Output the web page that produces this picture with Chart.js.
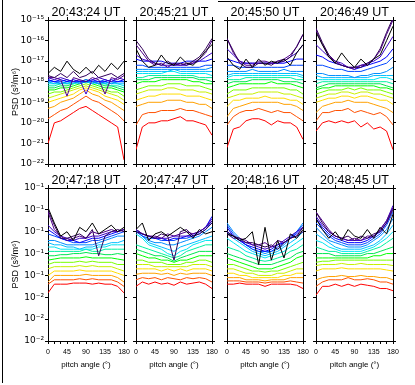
<!DOCTYPE html>
<html>
<head>
<meta charset="utf-8">
<script src="https://cdn.jsdelivr.net/npm/chart.js@4/dist/chart.umd.min.js"></script>
<style>
  body { margin: 0; background: #fff; width: 415px; height: 385px; position: relative; overflow: hidden; }
  canvas { position: absolute; }
  .rule { position: absolute; background: #000; }
</style>
</head>
<body>
<div class="rule" style="left:2px;top:0;width:1px;height:383px"></div>
<div class="rule" style="left:218px;top:1px;width:197px;height:1px"></div>
<script>
// pitch angle bins (degrees)
const pitchAngles = [0, 15, 30, 45, 60, 75, 90, 105, 120, 135, 150, 165, 180];

const panelTimes = ['20:43:24 UT', '20:45:21 UT', '20:45:50 UT', '20:46:49 UT',
                    '20:47:18 UT', '20:47:47 UT', '20:48:16 UT', '20:48:45 UT'];

// one colour per energy channel, lowest energy (top curve) first
const lineColors = ['#000000', '#32005a', '#50008c', '#3c00c8', '#0000ff', '#0046ff',
                    '#008cff', '#00beff', '#00e6f0', '#00f0a0', '#00e650', '#00ff00',
                    '#78ff00', '#c8f000', '#ffdc00', '#ffa000', '#ff5000', '#ff0000'];

// y tick labels, from 1e-22 up to 1e-15 (bottom row labels are truncated in the original)
const topRowYLabels = ['10⁻²²', '10⁻²¹', '10⁻²⁰', '10⁻¹⁹', '10⁻¹⁸', '10⁻¹⁷', '10⁻¹⁶', '10⁻¹⁵'];
const bottomRowYLabels = ['10⁻²', '10⁻²', '10⁻²', '10⁻¹', '10⁻¹', '10⁻¹', '10⁻¹', '10⁻¹'];
const xTickLabels = [0, 45, 90, 135, 180];

// log10 PSD per channel, one row per colour above
const psd204324 = [
  [-17.6,-17.3,-17.5,-17.0,-17.4,-17.6,-17.3,-17.6,-17.2,-17.5,-17.1,-17.4,-17.0],
  [-17.7,-17.8,-17.6,-17.8,-17.5,-17.8,-17.7,-17.5,-17.8,-17.7,-17.6,-17.8,-17.6],
  [-17.8,-17.8,-17.9,-18.7,-17.8,-17.9,-18.0,-17.8,-17.9,-18.6,-17.8,-17.9,-17.7],
  [-17.8,-17.9,-17.8,-17.9,-18.0,-17.9,-18.6,-17.9,-17.8,-17.9,-18.0,-17.8,-17.9],
  [-17.9,-18.0,-17.9,-18.0,-17.9,-18.0,-18.0,-17.9,-18.0,-18.0,-17.9,-18.0,-17.9],
  [-17.9,-18.0,-18.0,-17.9,-18.0,-18.0,-17.9,-18.0,-18.0,-17.9,-18.0,-18.0,-18.0],
  [-18.0,-18.0,-18.1,-18.0,-18.0,-18.1,-18.0,-18.0,-18.1,-18.0,-18.1,-18.0,-18.0],
  [-18.0,-18.1,-18.0,-18.1,-18.0,-18.0,-18.0,-18.1,-18.0,-18.1,-18.0,-18.1,-18.1],
  [-18.1,-18.1,-18.1,-18.0,-18.1,-18.0,-18.0,-18.0,-18.1,-18.0,-18.1,-18.1,-18.2],
  [-18.2,-18.2,-18.1,-18.1,-18.1,-18.0,-17.9,-18.0,-18.1,-18.1,-18.2,-18.2,-18.3],
  [-18.3,-18.3,-18.2,-18.2,-18.1,-18.0,-18.0,-18.0,-18.1,-18.2,-18.2,-18.3,-18.4],
  [-18.4,-18.4,-18.3,-18.3,-18.2,-18.1,-18.0,-18.1,-18.2,-18.3,-18.3,-18.4,-18.5],
  [-18.6,-18.5,-18.5,-18.4,-18.3,-18.2,-18.1,-18.2,-18.3,-18.4,-18.5,-18.5,-18.7],
  [-18.8,-18.7,-18.6,-18.5,-18.4,-18.3,-18.2,-18.3,-18.4,-18.5,-18.6,-18.7,-18.9],
  [-19.0,-18.9,-18.8,-18.7,-18.6,-18.4,-18.3,-18.4,-18.5,-18.7,-18.8,-18.9,-19.1],
  [-19.3,-19.2,-19.0,-18.9,-18.8,-18.6,-18.4,-18.6,-18.7,-18.9,-19.0,-19.2,-19.4],
  [-19.8,-19.6,-19.4,-19.3,-19.1,-18.9,-18.7,-18.9,-19.0,-19.2,-19.4,-19.6,-19.9],
  [-21.0,-20.0,-19.9,-19.7,-19.5,-19.3,-19.2,-19.4,-19.6,-19.8,-20.0,-20.2,-21.8]
];
const psd204521 = [
  [-16.4,-17.0,-17.3,-17.2,-16.7,-17.1,-17.2,-16.8,-17.1,-17.2,-16.9,-16.5,-16.2],
  [-16.0,-16.4,-16.9,-17.1,-17.2,-17.0,-17.2,-17.1,-17.2,-17.0,-16.8,-16.4,-15.9],
  [-16.2,-16.6,-17.0,-17.2,-17.1,-17.3,-17.1,-17.2,-17.1,-17.1,-16.9,-16.6,-16.0],
  [-16.7,-16.9,-17.0,-17.1,-17.2,-17.2,-17.2,-17.2,-17.2,-17.1,-17.0,-16.8,-16.6],
  [-16.9,-17.0,-17.0,-17.0,-17.0,-17.1,-17.1,-17.1,-17.0,-17.0,-17.0,-17.0,-16.9],
  [-17.2,-17.2,-17.3,-17.3,-17.3,-17.3,-17.3,-17.3,-17.3,-17.3,-17.3,-17.2,-17.2],
  [-17.4,-17.4,-17.4,-17.4,-17.4,-17.4,-17.4,-17.4,-17.4,-17.4,-17.4,-17.4,-17.3],
  [-17.5,-17.5,-17.5,-17.5,-17.5,-17.5,-17.4,-17.5,-17.5,-17.5,-17.5,-17.5,-17.5],
  [-17.6,-17.6,-17.6,-17.6,-17.6,-17.5,-17.5,-17.6,-17.6,-17.6,-17.6,-17.6,-17.7],
  [-17.8,-17.8,-17.7,-17.7,-17.7,-17.7,-17.7,-17.7,-17.7,-17.7,-17.8,-17.8,-17.8],
  [-17.9,-17.9,-17.9,-17.8,-17.8,-17.8,-17.8,-17.8,-17.8,-17.8,-17.9,-17.9,-18.0],
  [-18.1,-18.0,-18.0,-18.0,-17.9,-17.9,-17.9,-17.9,-17.9,-18.0,-18.0,-18.1,-18.1],
  [-18.4,-18.3,-18.2,-18.2,-18.2,-18.1,-18.1,-18.1,-18.2,-18.2,-18.2,-18.3,-18.4],
  [-18.6,-18.5,-18.4,-18.4,-18.4,-18.3,-18.3,-18.4,-18.4,-18.4,-18.5,-18.5,-18.6],
  [-18.9,-18.8,-18.7,-18.7,-18.6,-18.6,-18.6,-18.6,-18.7,-18.7,-18.7,-18.8,-18.9],
  [-19.2,-19.1,-19.0,-19.0,-19.0,-18.9,-18.9,-18.9,-19.0,-19.0,-19.1,-19.1,-19.3],
  [-20.1,-19.6,-19.5,-19.5,-19.4,-19.4,-19.4,-19.3,-19.4,-19.4,-19.5,-19.6,-19.7],
  [-21.3,-20.2,-20.0,-20.0,-19.9,-19.9,-19.8,-19.7,-19.9,-19.9,-20.0,-20.1,-20.6]
];
const psd204550 = [
  [-16.8,-17.2,-17.4,-16.9,-17.3,-16.9,-17.2,-17.0,-17.1,-16.9,-17.2,-16.6,-16.2],
  [-15.9,-16.5,-17.1,-17.3,-17.3,-17.1,-17.1,-17.2,-17.0,-17.0,-16.8,-16.3,-15.7],
  [-15.9,-16.6,-17.0,-17.2,-17.2,-17.0,-17.0,-17.1,-17.0,-16.9,-16.7,-16.3,-15.7],
  [-16.4,-16.7,-17.0,-17.1,-17.1,-17.1,-17.1,-17.1,-17.1,-17.0,-16.8,-16.6,-16.2],
  [-16.9,-17.0,-17.1,-17.1,-17.1,-17.1,-17.1,-17.1,-17.1,-17.1,-17.0,-16.9,-16.9],
  [-17.2,-17.2,-17.3,-17.3,-17.3,-17.3,-17.3,-17.3,-17.3,-17.3,-17.2,-17.2,-17.2],
  [-17.5,-17.5,-17.5,-17.5,-17.4,-17.5,-17.5,-17.5,-17.5,-17.4,-17.5,-17.5,-17.5],
  [-17.7,-17.6,-17.6,-17.6,-17.6,-17.6,-17.6,-17.6,-17.6,-17.6,-17.6,-17.6,-17.7],
  [-17.8,-17.7,-17.7,-17.7,-17.7,-17.7,-17.7,-17.7,-17.7,-17.7,-17.7,-17.7,-17.8],
  [-17.9,-17.9,-17.9,-17.8,-17.8,-17.8,-17.8,-17.8,-17.8,-17.8,-17.8,-17.9,-17.9],
  [-18.1,-18.0,-18.0,-18.0,-17.9,-17.9,-17.9,-17.9,-17.9,-18.0,-18.0,-18.0,-18.1],
  [-18.3,-18.2,-18.1,-18.1,-18.1,-18.1,-18.1,-18.0,-18.1,-18.1,-18.1,-18.2,-18.3],
  [-18.6,-18.4,-18.4,-18.4,-18.3,-18.3,-18.3,-18.3,-18.3,-18.3,-18.4,-18.4,-18.6],
  [-18.8,-18.7,-18.6,-18.6,-18.6,-18.5,-18.5,-18.5,-18.5,-18.6,-18.6,-18.7,-18.8],
  [-19.2,-18.9,-18.9,-18.8,-18.8,-18.8,-18.7,-18.8,-18.8,-18.8,-18.9,-18.9,-19.1],
  [-19.7,-19.3,-19.2,-19.1,-19.0,-19.0,-19.0,-19.0,-19.0,-19.1,-19.1,-19.2,-19.4],
  [-20.1,-19.7,-19.5,-19.4,-19.4,-19.3,-19.4,-19.5,-19.4,-19.5,-19.5,-19.7,-19.9],
  [-21.2,-20.3,-20.2,-19.9,-19.8,-19.8,-19.9,-20.1,-19.9,-20.0,-20.0,-20.2,-20.8]
];
const psd204649 = [
  [-15.6,-16.2,-16.8,-17.1,-16.6,-17.0,-17.3,-16.9,-17.2,-16.9,-16.7,-16.0,-15.3],
  [-15.4,-16.1,-16.7,-17.1,-17.2,-17.3,-17.3,-17.3,-17.1,-16.9,-16.4,-15.6,-14.9],
  [-15.5,-16.2,-16.7,-17.0,-17.2,-17.3,-17.4,-17.2,-17.2,-16.9,-16.5,-15.7,-15.0],
  [-16.2,-16.5,-16.8,-17.0,-17.1,-17.3,-17.3,-17.2,-17.1,-17.0,-16.8,-16.3,-15.8],
  [-16.7,-16.8,-17.0,-17.1,-17.2,-17.3,-17.4,-17.3,-17.2,-17.1,-17.0,-16.8,-16.4],
  [-17.2,-17.2,-17.3,-17.4,-17.4,-17.5,-17.5,-17.5,-17.4,-17.3,-17.2,-17.1,-16.8],
  [-17.6,-17.6,-17.7,-17.7,-17.7,-17.7,-17.8,-17.7,-17.7,-17.6,-17.6,-17.5,-17.3],
  [-17.7,-17.8,-17.8,-17.8,-17.8,-17.8,-17.8,-17.8,-17.8,-17.7,-17.7,-17.7,-17.7],
  [-17.9,-17.9,-17.9,-17.9,-17.9,-17.9,-17.9,-17.9,-17.9,-17.9,-17.8,-17.8,-17.9],
  [-18.1,-18.0,-18.0,-18.0,-18.0,-18.0,-18.0,-18.0,-18.0,-18.0,-18.0,-18.0,-18.1],
  [-18.3,-18.2,-18.1,-18.1,-18.1,-18.1,-18.1,-18.1,-18.1,-18.1,-18.1,-18.2,-18.3],
  [-18.4,-18.3,-18.3,-18.2,-18.2,-18.2,-18.2,-18.2,-18.2,-18.2,-18.3,-18.3,-18.4],
  [-18.6,-18.5,-18.4,-18.4,-18.4,-18.3,-18.4,-18.3,-18.4,-18.4,-18.4,-18.5,-18.6],
  [-18.8,-18.7,-18.6,-18.6,-18.5,-18.5,-18.6,-18.5,-18.5,-18.6,-18.6,-18.7,-18.8],
  [-19.0,-18.9,-18.8,-18.8,-18.7,-18.7,-18.8,-18.7,-18.7,-18.8,-18.9,-18.9,-19.1],
  [-19.5,-19.2,-19.1,-19.0,-19.0,-18.9,-19.0,-19.0,-19.0,-19.1,-19.2,-19.3,-19.5],
  [-19.9,-19.5,-19.5,-19.4,-19.4,-19.3,-19.5,-19.4,-19.5,-19.6,-19.5,-19.7,-20.1],
  [-20.4,-20.0,-19.9,-20.0,-19.9,-20.0,-19.9,-20.2,-20.0,-20.3,-20.2,-20.4,-21.3]
];
const psd204718 = [
  [-15.9,-16.6,-17.2,-17.0,-17.4,-16.8,-17.0,-16.6,-17.1,-16.9,-16.7,-17.0,-16.8],
  [-16.0,-16.7,-17.3,-17.3,-17.2,-17.1,-17.3,-16.9,-18.1,-17.2,-17.0,-16.9,-17.0],
  [-16.1,-16.9,-17.2,-17.4,-17.3,-17.2,-17.3,-17.0,-17.1,-17.0,-16.9,-17.0,-16.9],
  [-16.7,-17.0,-17.2,-17.3,-17.4,-17.3,-17.3,-17.2,-17.2,-17.1,-17.0,-17.0,-16.9],
  [-16.9,-17.1,-17.3,-17.4,-17.4,-17.5,-17.4,-17.3,-17.3,-17.2,-17.1,-17.0,-16.9],
  [-17.1,-17.2,-17.3,-17.4,-17.5,-17.5,-17.5,-17.4,-17.4,-17.3,-17.2,-17.1,-17.0],
  [-17.4,-17.4,-17.5,-17.6,-17.6,-17.6,-17.6,-17.6,-17.5,-17.4,-17.3,-17.2,-17.2],
  [-17.5,-17.6,-17.6,-17.7,-17.7,-17.8,-17.7,-17.7,-17.6,-17.6,-17.5,-17.5,-17.4],
  [-17.7,-17.7,-17.8,-17.8,-17.8,-17.8,-17.8,-17.8,-17.7,-17.7,-17.6,-17.6,-17.6],
  [-17.9,-17.9,-17.9,-17.9,-17.9,-17.9,-17.8,-17.9,-17.9,-17.8,-17.8,-17.8,-17.8],
  [-18.1,-18.1,-18.05,-18.05,-18.0,-18.0,-17.95,-18.0,-18.0,-18.05,-18.05,-18.0,-18.05],
  [-18.3,-18.25,-18.2,-18.2,-18.2,-18.2,-18.15,-18.2,-18.2,-18.2,-18.2,-18.25,-18.3],
  [-18.5,-18.4,-18.4,-18.4,-18.4,-18.35,-18.4,-18.35,-18.4,-18.4,-18.4,-18.5,-18.5],
  [-18.7,-18.6,-18.6,-18.6,-18.6,-18.55,-18.6,-18.55,-18.6,-18.6,-18.6,-18.7,-18.8],
  [-19.0,-18.8,-18.8,-18.8,-18.8,-18.75,-18.8,-18.8,-18.8,-18.8,-18.8,-18.9,-19.0],
  [-19.3,-19.0,-19.0,-19.0,-19.0,-19.0,-18.95,-19.0,-19.0,-19.0,-19.0,-19.1,-19.3],
  [-19.4,-19.2,-19.2,-19.2,-19.2,-19.15,-19.2,-19.15,-19.2,-19.2,-19.2,-19.3,-19.5],
  [-19.8,-19.4,-19.4,-19.4,-19.35,-19.35,-19.35,-19.4,-19.35,-19.4,-19.4,-19.5,-19.8]
];
const psd204747 = [
  [-16.9,-16.6,-17.4,-17.1,-17.0,-17.2,-17.0,-16.8,-17.0,-17.3,-16.9,-17.1,-17.0],
  [-17.0,-17.1,-17.2,-17.3,-17.1,-17.2,-18.3,-17.0,-16.9,-17.2,-17.1,-16.9,-16.6],
  [-16.9,-17.1,-17.2,-17.2,-17.3,-17.1,-17.2,-17.1,-17.0,-17.1,-17.0,-16.8,-16.5],
  [-16.9,-17.1,-17.2,-17.3,-17.3,-17.3,-17.2,-17.2,-17.2,-17.1,-17.0,-16.8,-16.4],
  [-16.9,-17.1,-17.2,-17.3,-17.3,-17.4,-17.3,-17.3,-17.2,-17.2,-17.0,-16.8,-16.3],
  [-17.0,-17.2,-17.3,-17.3,-17.4,-17.4,-17.4,-17.3,-17.3,-17.2,-17.1,-16.9,-16.5],
  [-16.9,-17.2,-17.4,-17.5,-17.5,-17.6,-17.6,-17.5,-17.4,-17.3,-17.2,-17.0,-16.8],
  [-16.9,-17.2,-17.5,-17.6,-17.7,-17.8,-17.9,-17.7,-17.6,-17.5,-17.4,-17.3,-17.2],
  [-17.1,-17.3,-17.6,-17.7,-17.8,-18.0,-18.1,-17.9,-17.8,-17.6,-17.5,-17.4,-17.4],
  [-17.6,-17.7,-17.8,-17.9,-18.0,-18.1,-18.2,-18.1,-17.9,-17.8,-17.7,-17.6,-17.6],
  [-17.8,-17.9,-18.0,-18.1,-18.1,-18.2,-18.35,-18.2,-18.1,-18.0,-17.9,-17.9,-17.9],
  [-18.0,-18.1,-18.2,-18.2,-18.3,-18.3,-18.4,-18.3,-18.3,-18.2,-18.1,-18.1,-18.1],
  [-18.3,-18.3,-18.4,-18.4,-18.4,-18.5,-18.5,-18.5,-18.4,-18.4,-18.3,-18.3,-18.4],
  [-18.5,-18.5,-18.5,-18.6,-18.6,-18.6,-18.6,-18.6,-18.6,-18.5,-18.5,-18.5,-18.6],
  [-18.7,-18.7,-18.7,-18.7,-18.8,-18.7,-18.8,-18.7,-18.8,-18.7,-18.7,-18.7,-18.8],
  [-18.95,-18.9,-18.9,-18.9,-18.95,-18.9,-19.0,-18.9,-18.95,-18.9,-18.9,-18.9,-19.0],
  [-19.2,-19.1,-19.15,-19.1,-19.2,-19.1,-19.15,-19.2,-19.1,-19.15,-19.1,-19.15,-19.3],
  [-19.5,-19.3,-19.4,-19.3,-19.4,-19.35,-19.45,-19.3,-19.4,-19.35,-19.3,-19.4,-19.6]
];
const psd204816 = [
  [-17.1,-17.2,-17.4,-17.3,-17.0,-18.5,-16.8,-18.3,-17.4,-18.2,-17.1,-17.3,-16.9],
  [-17.0,-17.2,-17.3,-17.5,-17.5,-17.6,-17.7,-17.6,-17.8,-17.5,-17.3,-17.2,-16.8],
  [-17.1,-17.3,-17.3,-17.4,-17.6,-17.6,-17.5,-17.7,-17.4,-17.5,-17.3,-17.2,-17.0],
  [-17.0,-17.2,-17.4,-17.5,-17.6,-17.7,-17.8,-17.7,-17.6,-17.4,-17.2,-17.0,-16.8],
  [-16.8,-17.2,-17.4,-17.6,-17.7,-17.8,-17.9,-17.8,-17.6,-17.5,-17.3,-17.1,-16.8],
  [-16.7,-17.1,-17.4,-17.6,-17.8,-17.9,-17.9,-17.9,-17.7,-17.5,-17.3,-17.0,-16.7],
  [-16.6,-17.0,-17.3,-17.6,-17.8,-17.9,-18.0,-17.9,-17.8,-17.6,-17.3,-17.0,-16.6],
  [-17.0,-17.3,-17.5,-17.7,-17.9,-18.0,-18.1,-18.0,-17.9,-17.7,-17.5,-17.3,-17.0],
  [-17.3,-17.5,-17.7,-17.9,-18.0,-18.1,-18.2,-18.1,-18.0,-17.9,-17.7,-17.5,-17.3],
  [-17.7,-17.8,-17.9,-18.1,-18.2,-18.3,-18.35,-18.3,-18.2,-18.1,-17.9,-17.8,-17.6],
  [-18.0,-18.1,-18.2,-18.3,-18.4,-18.5,-18.5,-18.5,-18.4,-18.3,-18.2,-18.0,-17.9],
  [-18.2,-18.3,-18.4,-18.5,-18.6,-18.7,-18.7,-18.7,-18.6,-18.5,-18.4,-18.2,-18.1],
  [-18.5,-18.5,-18.6,-18.7,-18.8,-18.8,-18.85,-18.8,-18.8,-18.7,-18.6,-18.5,-18.4],
  [-18.7,-18.7,-18.8,-18.9,-18.9,-19.0,-19.0,-19.0,-18.9,-18.9,-18.8,-18.7,-18.7],
  [-18.9,-18.9,-19.0,-19.0,-19.1,-19.1,-19.1,-19.1,-19.1,-19.0,-19.0,-18.9,-18.9],
  [-19.1,-19.1,-19.1,-19.2,-19.2,-19.2,-19.25,-19.2,-19.2,-19.2,-19.1,-19.1,-19.1],
  [-19.25,-19.25,-19.25,-19.3,-19.3,-19.3,-19.35,-19.3,-19.3,-19.3,-19.25,-19.3,-19.35],
  [-19.4,-19.4,-19.35,-19.4,-19.4,-19.4,-19.5,-19.4,-19.4,-19.4,-19.4,-19.45,-19.6]
];
const psd204845 = [
  [-16.4,-16.9,-17.3,-17.0,-17.4,-16.9,-17.2,-17.3,-16.9,-17.3,-16.8,-17.1,-16.2],
  [-16.1,-16.6,-17.0,-17.2,-17.3,-17.2,-17.4,-17.2,-17.3,-17.1,-17.0,-16.6,-16.0],
  [-16.1,-16.5,-16.9,-17.2,-17.3,-17.4,-17.3,-17.4,-17.2,-17.2,-16.9,-16.5,-15.9],
  [-16.3,-16.7,-17.0,-17.2,-17.3,-17.4,-17.4,-17.4,-17.3,-17.2,-16.9,-16.5,-15.8],
  [-16.4,-16.8,-17.1,-17.3,-17.4,-17.5,-17.5,-17.5,-17.4,-17.2,-17.0,-16.6,-15.9],
  [-16.6,-16.9,-17.2,-17.4,-17.5,-17.6,-17.6,-17.6,-17.5,-17.3,-17.1,-16.7,-16.1],
  [-16.8,-17.1,-17.4,-17.5,-17.6,-17.7,-17.7,-17.7,-17.6,-17.4,-17.2,-16.9,-16.4],
  [-17.1,-17.3,-17.5,-17.7,-17.8,-17.8,-17.8,-17.8,-17.7,-17.6,-17.4,-17.1,-16.7],
  [-17.4,-17.5,-17.7,-17.8,-17.9,-17.9,-17.9,-17.9,-17.8,-17.7,-17.5,-17.3,-17.0],
  [-17.7,-17.8,-17.9,-17.9,-18.0,-18.0,-18.0,-18.0,-17.9,-17.8,-17.7,-17.5,-17.3],
  [-18.0,-18.0,-18.0,-18.1,-18.1,-18.1,-18.1,-18.1,-18.0,-18.0,-17.9,-17.8,-17.7],
  [-18.2,-18.2,-18.2,-18.2,-18.2,-18.2,-18.2,-18.2,-18.2,-18.1,-18.1,-18.0,-18.0],
  [-18.4,-18.35,-18.35,-18.3,-18.3,-18.3,-18.3,-18.3,-18.3,-18.3,-18.3,-18.3,-18.3],
  [-18.55,-18.5,-18.5,-18.5,-18.45,-18.5,-18.5,-18.45,-18.5,-18.5,-18.5,-18.5,-18.55],
  [-18.8,-18.7,-18.7,-18.7,-18.65,-18.7,-18.7,-18.7,-18.7,-18.7,-18.7,-18.75,-18.8],
  [-19.2,-19.1,-19.05,-19.05,-19.0,-19.05,-19.05,-19.0,-19.05,-19.05,-19.1,-19.1,-19.2],
  [-19.5,-19.3,-19.2,-19.2,-19.2,-19.1,-19.2,-19.2,-19.15,-19.2,-19.3,-19.3,-19.4],
  [-19.9,-19.5,-19.5,-19.4,-19.5,-19.4,-19.5,-19.4,-19.45,-19.5,-19.6,-19.6,-19.7]
];

const panelData = [psd204324, psd204521, psd204550, psd204649,
                   psd204718, psd204747, psd204816, psd204845];

// plot box edges in page pixels
const colLeft = [48, 136, 227, 316];
const colRight = [124, 212, 303, 393];
const rowTop = [20, 188];
const rowBottom = [164, 341];

const FONT = 'Liberation Sans, Arial, sans-serif';

function makePanel(idx) {
  const r = Math.floor(idx / 4), c = idx % 4;
  const left = c === 0 ? 0 : colLeft[c] - 8;
  const top = rowTop[r] - 20;
  const leftW = colLeft[c] - left;
  const rightW = 10;
  const bottomH = r === 0 ? 8 : 34;
  const w = colRight[c] + rightW - left;
  const h = rowBottom[r] + bottomH - top;

  const cv = document.createElement('canvas');
  cv.width = w;
  cv.height = h;
  cv.style.left = left + 'px';
  cv.style.top = top + 'px';
  cv.style.width = w + 'px';
  cv.style.height = h + 'px';
  document.body.appendChild(cv);

  const yLabels = r === 0 ? topRowYLabels : bottomRowYLabels;
  const axisLine = { display: true, color: '#000', width: 1 };
  const outTicks = { drawOnChartArea: false, drawTicks: true, tickLength: 3, color: '#000', tickColor: '#000' };

  return new Chart(cv, {
    type: 'line',
    data: {
      datasets: panelData[idx].map((vals, i) => ({
        data: vals.map((v, j) => ({ x: pitchAngles[j], y: v })),
        borderColor: lineColors[i],
        borderWidth: 1,
        pointRadius: 0,
        fill: false,
        tension: 0
      }))
    },
    options: {
      responsive: false,
      animation: false,
      devicePixelRatio: 1,
      layout: { padding: 0 },
      plugins: {
        legend: { display: false },
        tooltip: { enabled: false },
        title: {
          display: true,
          fullSize: false,
          text: panelTimes[idx],
          color: '#000',
          font: { family: FONT, size: 12.5, weight: 'normal', lineHeight: 1 },
          padding: { top: 6.5, bottom: 0 }
        }
      },
      scales: {
        x: {
          type: 'linear', position: 'bottom', min: 0, max: 180,
          ticks: {
            display: r === 1, stepSize: 15, autoSkip: false, maxRotation: 0, padding: 4,
            color: '#000', font: { family: FONT, size: 7 },
            callback: v => (xTickLabels.includes(v) ? String(v) : '')
          },
          grid: outTicks,
          border: axisLine,
          title: {
            display: r === 1, text: 'pitch angle (°)', color: '#000',
            font: { family: FONT, size: 8 }, padding: { top: 0, bottom: 5 }
          },
          afterFit: s => { s.height = bottomH; }
        },
        xTop: {
          type: 'linear', position: 'top', min: 0, max: 180,
          ticks: { display: false, stepSize: 45 },
          grid: outTicks,
          border: axisLine,
          afterFit: s => { s.height = 1; }
        },
        y: {
          type: 'linear', position: 'left', min: -22, max: -15,
          ticks: {
            display: c === 0, stepSize: 1, padding: 1, color: '#000',
            font: { family: 'DejaVu Sans', size: 9 },
            callback: v => yLabels[v + 22]
          },
          grid: outTicks,
          border: axisLine,
          title: {
            display: c === 0, text: 'PSD (s³/m⁶)', color: '#000',
            font: { family: FONT, size: 9 }, padding: { top: 10, bottom: 0 }
          },
          afterFit: s => { s.width = leftW; }
        },
        yRight: {
          type: 'linear', position: 'right', min: -22, max: -15,
          ticks: { display: false, stepSize: 1 },
          grid: outTicks,
          border: axisLine,
          afterFit: s => { s.width = rightW; }
        }
      }
    }
  });
}

for (let i = 0; i < 8; i++) makePanel(i);
</script>
</body>
</html>
